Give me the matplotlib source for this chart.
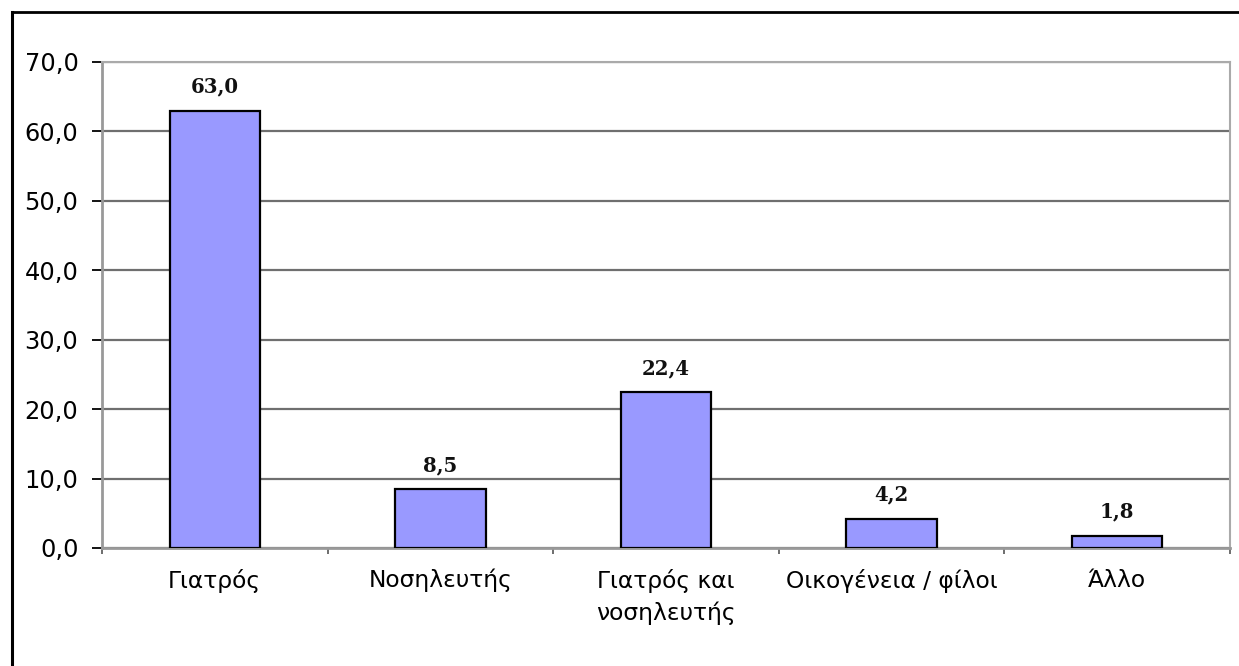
import matplotlib
matplotlib.use("Agg")
import matplotlib.pyplot as plt
from matplotlib.lines import Line2D
from matplotlib.ticker import FixedLocator, FuncFormatter

categories = ["Γιατρός", "Νοσηλευτής", "Γιατρός και\nνοσηλευτής", "Οικογένεια / φίλοι", "Άλλο"]
values = [63.0, 8.5, 22.4, 4.2, 1.8]
y_ticks = [0, 10, 20, 30, 40, 50, 60, 70]

fig = plt.figure(figsize=(12.39, 6.66), dpi=100)
fig.patch.set_facecolor("white")

# outer frame lines (top and left)
fig.add_artist(Line2D([12 / 1239, 1.0], [1 - 12 / 666, 1 - 12 / 666], color="black", lw=2.0))
fig.add_artist(Line2D([12 / 1239, 12 / 1239], [0.0, 1 - 12 / 666], color="black", lw=2.2))

ax = fig.add_axes([102 / 1239, 1 - 548 / 666, (1230 - 102) / 1239, (548 - 62) / 666])
x = list(range(len(categories)))

ax.set_axisbelow(True)
ax.yaxis.grid(True, color="#6f6f6f", lw=1.6)
ax.bar(x, values, width=0.4, color="#9999FF", edgecolor="black", linewidth=1.6, zorder=3)

for xi, v in zip(x, values):
    ax.annotate(f"{v:.1f}".replace(".", ","), (xi, v), xytext=(0, 13), textcoords="offset points",
                ha="center", va="baseline", fontsize=14.2, fontweight="bold",
                family="DejaVu Serif", color="#111111")

ax.set_xlim(-0.5, len(categories) - 0.5)
ax.set_ylim(0, 70)
ax.set_yticks(y_ticks)
ax.yaxis.set_major_formatter(FuncFormatter(lambda v, p: f"{v:.1f}".replace(".", ",")))
ax.tick_params(axis="y", direction="out", length=7, width=1.3, color="black",
               labelsize=17.4, pad=10, labelcolor="black")

ax.set_xticks(x)
ax.set_xticklabels(categories, fontsize=16.8, linespacing=1.45)
ax.tick_params(axis="x", which="major", length=0, pad=15)
ax.xaxis.set_minor_locator(FixedLocator([i - 0.5 for i in range(len(categories) + 1)]))
ax.tick_params(axis="x", which="minor", direction="out", length=4, width=1.2, color="#555555")

for side in ("left", "bottom"):
    ax.spines[side].set_color("#999999")
    ax.spines[side].set_linewidth(2.0)
ax.spines["right"].set_color("#aaaaaa")
ax.spines["right"].set_linewidth(1.5)
ax.spines["top"].set_color("#aaaaaa")
ax.spines["top"].set_linewidth(1.5)

fig.savefig("out.png", dpi=100, facecolor="white")
